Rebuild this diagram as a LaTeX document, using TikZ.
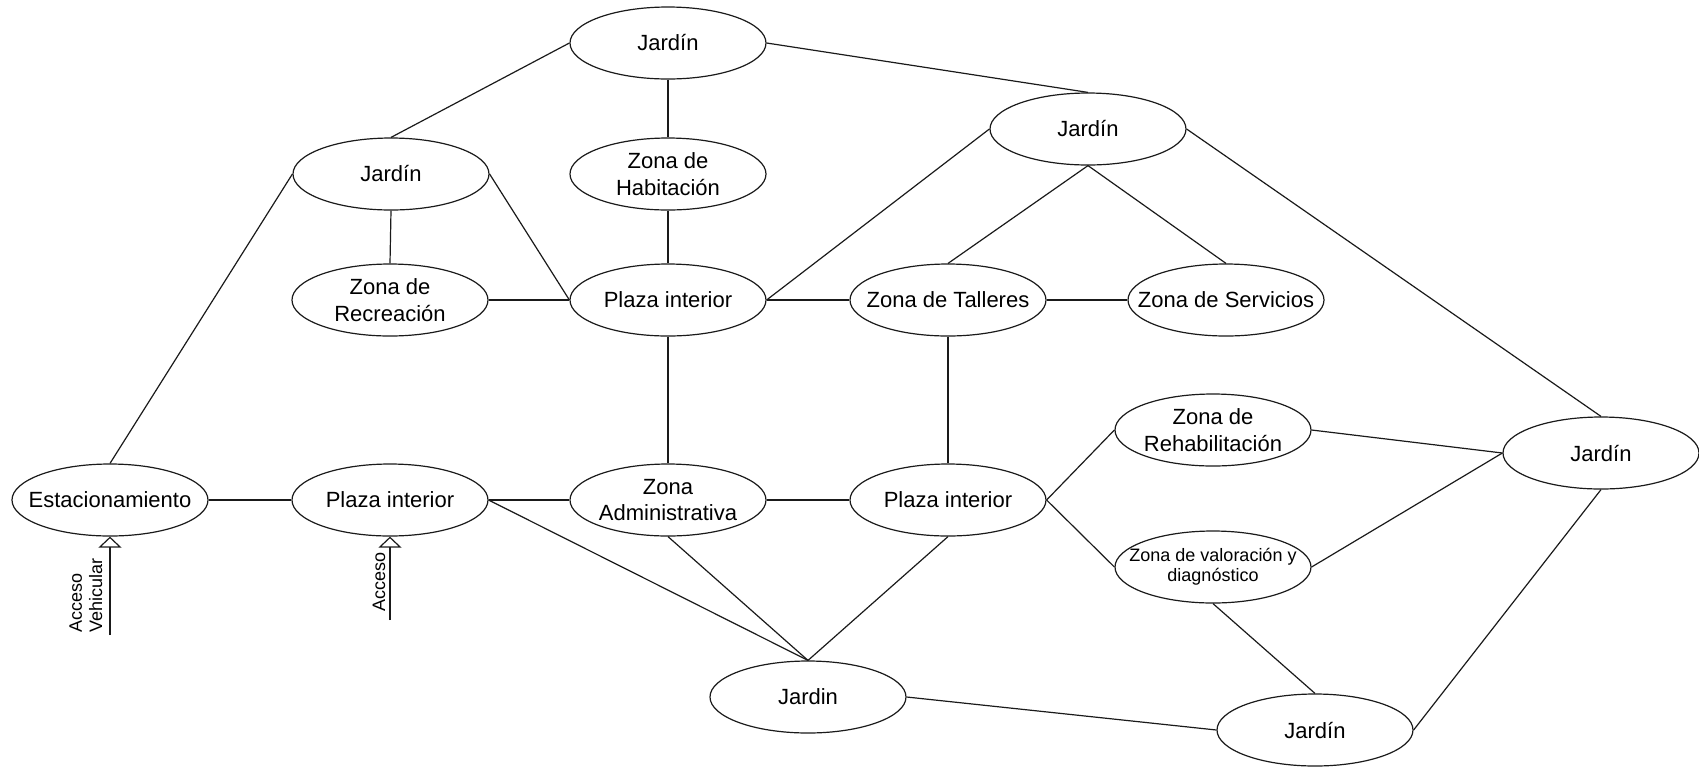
\documentclass[tikz,border=0pt]{standalone}
\usepackage{fontspec}
\setmainfont{Liberation Sans}
\usepackage{tikz}
\usetikzlibrary{arrows.meta,shapes.geometric}
\definecolor{trazo}{HTML}{1A1A1A}
\tikzset{
  zona/.style={ellipse, draw=trazo, line width=0.6pt, fill=white, minimum width=98pt, minimum height=36pt, inner sep=0pt},
  rotulo/.style={font=\fontsize{11}{13.3}\selectfont, align=center, inner sep=0pt, text=black},
  chico/.style={font=\fontsize{9}{10.2}\selectfont, align=center, inner sep=0pt, text=black},
  enlace/.style={draw=trazo, line width=0.6pt},
  acceso/.style={-{Triangle[open, length=5.5pt, width=11.5pt]}, draw=trazo, line width=0.6pt},
}

\begin{document}
\begin{tikzpicture}[x=0.5pt, y=-0.5pt]
  \useasboundingbox (0,0) rectangle (1699,767);
  % zonas
  \node[zona, label={[rotulo]center:Jardín}](jTop) at (668,43) {};
  \node[zona, label={[rotulo]center:Jardín}](jIzq) at (391,174) {};
  \node[zona, label={[rotulo]center:{Zona de\\Habitación}}](habit) at (668,174) {};
  \node[zona, label={[rotulo]center:Jardín}](jDer) at (1088,129) {};
  \node[zona, label={[rotulo]center:{Zona de\\Recreación}}](recre) at (390,300) {};
  \node[zona, label={[rotulo]center:Plaza interior}](plazaA) at (668,300) {};
  \node[zona, label={[rotulo]center:Zona de Talleres}](taller) at (948,300) {};
  \node[zona, label={[rotulo]center:Zona de Servicios}](servi) at (1226,300) {};
  \node[zona, label={[rotulo]center:{Zona de\\Rehabilitación}}](rehab) at (1213,430) {};
  \node[zona, label={[chico]center:{Zona de valoración y\\diagnóstico}}](valor) at (1213,567) {};
  \node[zona, label={[rotulo]center:Jardín}](jEste) at (1601,453) {};
  \node[zona, label={[rotulo]center:Estacionamiento}](estac) at (110,500) {};
  \node[zona, label={[rotulo]center:Plaza interior}](plazaB) at (390,500) {};
  \node[zona, label={[rotulo]center:{Zona\\Administrativa}}](admin) at (668,500) {};
  \node[zona, label={[rotulo]center:Plaza interior}](plazaC) at (948,500) {};
  \node[zona, label={[rotulo]center:Jardin}](jSur) at (808,697) {};
  \node[zona, label={[rotulo]center:Jardín}](jSurE) at (1315,730) {};
  % enlaces
  \foreach \a/\b in {jTop.west/jIzq.north, jTop.south/habit.north, jTop.east/jDer.north,
    jIzq.west/estac.north, jIzq.south/recre.north, jIzq.east/plazaA.west,
    habit.south/plazaA.north, recre.east/plazaA.west, jDer.west/plazaA.east,
    jDer.south/taller.north, jDer.south/servi.north, jDer.east/jEste.north,
    plazaA.east/taller.west, taller.east/servi.west, plazaA.south/admin.north,
    taller.south/plazaC.north, estac.east/plazaB.west, plazaB.east/admin.west,
    admin.east/plazaC.west, plazaB.east/jSur.north, admin.south/jSur.north,
    plazaC.south/jSur.north, plazaC.east/rehab.west, plazaC.east/valor.west,
    rehab.east/jEste.west, valor.east/jEste.west, valor.south/jSurE.north,
    jSur.east/jSurE.west, jEste.south/jSurE.east}{\draw[enlace](\a)--(\b);}
  % accesos
  \coordinate (accVeh) at (110,635);
  \coordinate (accPea) at (390,620);
  \draw[acceso](accVeh)--(estac.south)
    node[pos=0, chico, align=left, rotate=90, anchor=south west, inner xsep=1pt, inner ysep=3.5pt](lblVeh){Acceso\\Vehicular};
  \draw[acceso](accPea)--(plazaB.south)
    node[pos=0, chico, rotate=90, anchor=south west, inner xsep=4pt, inner ysep=2pt](lblPea){Acceso};
\end{tikzpicture}
\end{document}
